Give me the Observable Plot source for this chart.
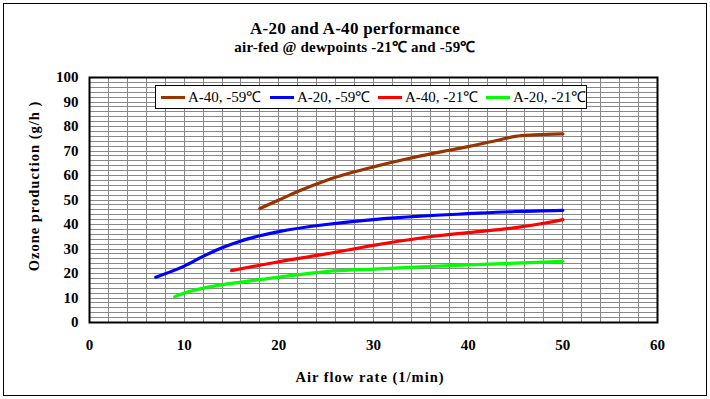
<!DOCTYPE html>
<html><head><meta charset="utf-8">
<script src="https://cdn.jsdelivr.net/npm/d3@7"></script>
<script src="https://cdn.jsdelivr.net/npm/@observablehq/plot@0.6"></script>
<style>
body{margin:0;background:#fff;font-family:'Liberation Serif';}
#wrap{position:relative;width:710px;height:399px;color:#000;overflow:hidden;}
#border{position:absolute;left:3px;top:3px;width:704px;height:393px;border:1px solid #000;box-sizing:border-box;pointer-events:none;}
#chart{position:absolute;left:0;top:0;}
.t{position:absolute;left:0;width:710px;text-align:center;font-weight:bold;white-space:nowrap;line-height:1;}
#title{top:20px;font-size:17px;letter-spacing:0.3px;}
#sub{top:40px;font-size:15px;letter-spacing:0.2px;}
#ylab{position:absolute;left:34px;top:186px;transform:translate(-50%,-50%) rotate(-90deg);font-weight:bold;font-size:14.5px;white-space:nowrap;line-height:1;letter-spacing:1px;}
#xlab{position:absolute;left:370px;top:377px;transform:translate(-50%,-50%);font-weight:bold;font-size:14.5px;white-space:nowrap;line-height:1;letter-spacing:1px;}
#legend{position:absolute;left:155px;top:85px;width:432px;height:24px;border:1px solid #000;box-sizing:border-box;background:#fff;font-size:15px;}
.item{position:absolute;top:3px;height:16px;line-height:16px;white-space:nowrap;}
.sw{display:inline-block;width:24px;height:3px;vertical-align:middle;margin-right:3px;position:relative;top:-1px;}
</style></head>
<body>
<div id="wrap">
  <div id="chart"></div>
  <div id="border"></div>
  <div class="t" id="title" style="font-family:'Liberation Serif'">A-20 and A-40 performance</div>
  <div class="t" id="sub" style="font-family:'Liberation Serif'">air-fed @ dewpoints -21℃ and -59℃</div>
  <div id="ylab" style="font-family:'Liberation Serif'">Ozone production (g/h )</div>
  <div id="xlab" style="font-family:'Liberation Serif'">Air flow rate (1/min)</div>
  <div id="legend" style="font-family:'Liberation Serif'"></div>
</div>
<script>
// Tick labels
const xTicks = [0, 10, 20, 30, 40, 50, 60];
const yTicks = [0, 10, 20, 30, 40, 50, 60, 70, 80, 90, 100];

// Series: air flow (l/min) and ozone production (g/h)
const a40_59_flow = [18, 20, 22, 25, 28, 30, 33, 35, 38, 40, 43, 45, 47, 50];
const a40_59_ozone = [46.5, 50, 53.5, 58, 61.5, 63.5, 66.3, 68, 70.3, 71.8, 74.3, 76, 76.6, 77];

const a20_59_flow = [7, 10, 12, 14, 16, 18, 20, 25, 30, 35, 40, 45, 50];
const a20_59_ozone = [18.5, 23, 27, 30.5, 33.3, 35.4, 37.1, 40, 42, 43.4, 44.4, 45.3, 45.8];

const a40_21_flow = [15, 20, 25, 30, 35, 40, 45, 48, 50];
const a40_21_ozone = [21.2, 24.8, 28, 31.5, 34.5, 36.7, 38.7, 40.5, 42];

const a20_21_flow = [9, 10, 12, 15, 18, 20, 25, 30, 35, 40, 45, 50];
const a20_21_ozone = [10.5, 12, 14, 16, 17.5, 18.5, 20.8, 21.8, 22.7, 23.5, 24.2, 25];

const seriesNames = ["A-40, -59℃", "A-20, -59℃", "A-40, -21℃", "A-20, -21℃"];
const seriesColors = ["#993300", "#0000ff", "#ff0000", "#00ff00"];

const series = [
  [a40_59_flow, a40_59_ozone],
  [a20_59_flow, a20_59_ozone],
  [a40_21_flow, a40_21_ozone],
  [a20_21_flow, a20_21_ozone]
].map(([f, o], k) => f.map((v, i) => ({flow: v, ozone: o[i], name: seriesNames[k]})));

const xGrid = d3.range(0, 61, 2);
const yGrid = d3.range(0, 101, 2);

const FONT = "Liberation Serif";

const chart = Plot.plot({
  width: 710, height: 399,
  marginLeft: 89, marginRight: 53, marginTop: 77, marginBottom: 77,
  x: {domain: [0, 60]},
  y: {domain: [0, 100]},
  style: {fontFamily: FONT, fontSize: "15px", fontWeight: "bold", color: "#000", background: "transparent"},
  marks: [
    Plot.ruleX(xGrid, {stroke: "#888", strokeWidth: 1, shapeRendering: "crispEdges"}),
    Plot.ruleY(yGrid, {stroke: "#888", strokeWidth: 1, shapeRendering: "crispEdges"}),
    ...series.map((d, k) => Plot.line(d, {x: "flow", y: "ozone", stroke: seriesColors[k], strokeWidth: 3.2, curve: "monotone-x"})),
    Plot.frame({stroke: "#000", strokeWidth: 2}),
    Plot.axisX(xTicks, {tickSize: 0, tickPadding: 17, label: null, fontSize: 15, fontWeight: "bold", fontFamily: FONT}),
    Plot.axisY(yTicks, {tickSize: 0, tickPadding: 11, label: null, fontSize: 15, fontWeight: "bold", fontFamily: FONT})
  ]
});
document.getElementById("chart").appendChild(chart);

const pos = [[5, 111], [114, 218], [222, 326], [330, 432]];
const lg = document.getElementById("legend");
seriesNames.forEach((n, k) => {
  const it = document.createElement("div");
  it.className = "item";
  it.style.left = pos[k][0] + "px";
  it.innerHTML = `<span class="sw" style="background:${seriesColors[k]}"></span>${n}`;
  lg.appendChild(it);
});
</script>
</body></html>
